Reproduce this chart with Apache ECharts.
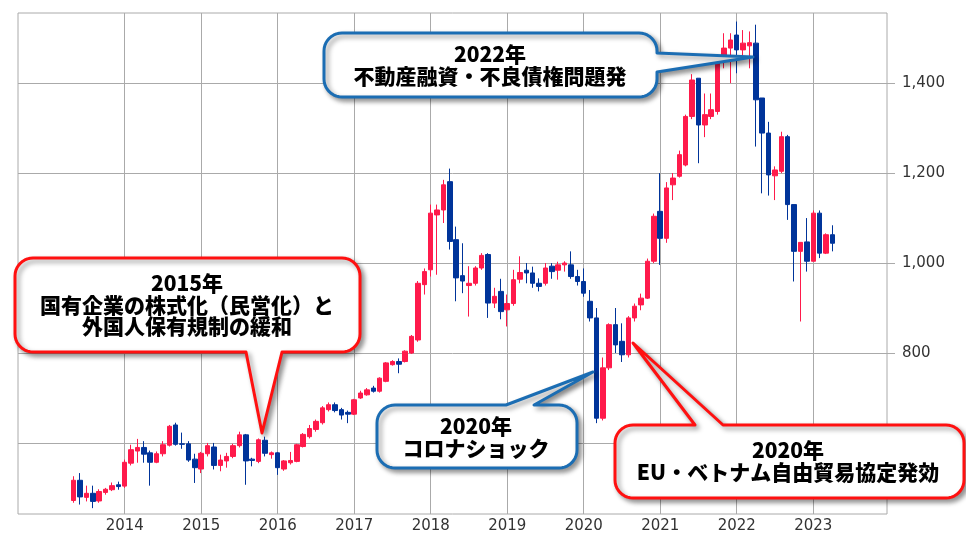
<!DOCTYPE html>
<html><head><meta charset="utf-8">
<script src="https://cdn.jsdelivr.net/npm/echarts@6/dist/echarts.min.js"></script>
<style>html,body{margin:0;padding:0;background:#fff}#c{width:966px;height:543px}</style>
</head><body><div id="c"></div>
<script>
// Monthly candles, May 2013 – Apr 2023
const startYear = 2013, startMonth = 5, monthCount = 120;
const months = [];
for (let i = 0; i < monthCount; i++) {
  const m0 = startMonth - 1 + i;
  months.push((startYear + Math.floor(m0 / 12)) + '-' + String(m0 % 12 + 1).padStart(2, '0'));
}
const opens = [
  472, 517, 479, 488, 471, 490, 496, 507,
  504, 555, 582, 590, 578, 557, 576, 595, 640, 598, 598, 564,
  542, 576, 591, 550, 560, 570, 594, 618, 564, 559, 606, 574,
  578, 542, 556, 559, 592, 614, 630, 645, 674, 685, 674, 668,
  664, 700, 707, 722, 715, 737, 774, 781, 781, 800, 829, 952,
  985, 1107, 1118, 1181, 1052, 972, 950, 955, 989, 1019, 911, 937,
  896, 910, 964, 984, 978, 955, 955, 993, 984, 996, 996, 970,
  959, 915, 878, 655, 767, 863, 826, 796, 878, 907, 922, 1004,
  1115, 1055, 1174, 1193, 1218, 1326, 1411, 1307, 1326, 1337, 1459, 1478,
  1507, 1474, 1483, 1489, 1367, 1289, 1194, 1204, 1281, 1130, 1026, 1047,
  1004, 1111, 1022, 1063
];
const closes = [
  517, 480, 488, 470, 492, 497, 505, 503,
  557, 585, 590, 575, 557, 576, 596, 637, 597, 597, 562, 545,
  577, 594, 550, 562, 570, 594, 618, 560, 561, 607, 577, 578,
  545, 560, 561, 596, 619, 632, 648, 678, 685, 672, 662, 664,
  696, 711, 718, 715, 744, 778, 781, 775, 804, 837, 955, 981,
  1111, 1118, 1174, 1048, 967, 960, 955, 989, 1017, 911, 926, 892,
  910, 963, 979, 978, 955, 948, 989, 981, 996, 1000, 970, 959,
  933, 878, 655, 767, 863, 818, 796, 878, 904, 922, 1004, 1104,
  1055, 1167, 1189, 1241, 1326, 1407, 1307, 1330, 1341, 1459, 1478, 1496,
  1474, 1489, 1490, 1363, 1289, 1196, 1207, 1281, 1130, 1026, 1046, 1004,
  1111, 1022, 1063, 1044
];
const lows = [
  467, 463, 470, 455, 467, 485, 493, 496,
  500, 550, 556, 556, 505, 555, 570, 592, 594, 587, 558, 511,
  533, 570, 541, 537, 545, 566, 590, 507, 548, 555, 570, 565,
  529, 538, 552, 557, 590, 610, 625, 641, 670, 668, 652, 644,
  662, 698, 705, 712, 712, 735, 772, 755, 779, 798, 825, 930,
  970, 974, 1089, 1030, 915, 933, 881, 950, 985, 878, 900, 875,
  859, 905, 955, 955, 945, 937, 950, 965, 963, 981, 965, 950,
  925, 870, 644, 650, 762, 800, 780, 790, 870, 895, 920, 1000,
  996, 1045, 1140, 1190, 1215, 1320, 1222, 1280, 1320, 1330, 1433, 1400,
  1422, 1460, 1433, 1259, 1155, 1150, 1140, 1200, 1096, 959, 870, 981,
  1004, 1011, 1020, 1026
];
const highs = [
  526, 533, 505, 505, 497, 500, 512, 514,
  563, 596, 609, 604, 583, 581, 604, 640, 645, 623, 604, 576,
  580, 600, 600, 574, 578, 598, 625, 620, 567, 610, 614, 581,
  580, 562, 580, 598, 622, 640, 652, 682, 690, 690, 678, 672,
  698, 716, 722, 727, 746, 780, 784, 788, 806, 840, 960, 988,
  1130, 1130, 1185, 1210, 1081, 1044, 993, 993, 1022, 1022, 945, 965,
  930, 985, 1015, 1000, 992, 966, 1000, 1000, 1003, 1004, 1026, 985,
  988, 940, 900, 790, 866, 900, 866, 882, 910, 932, 1010, 1110,
  1200, 1180, 1200, 1250, 1330, 1420, 1411, 1377, 1377, 1462, 1511, 1511,
  1537, 1518, 1515, 1530, 1367, 1314, 1215, 1292, 1285, 1130, 1046, 1100,
  1117, 1117, 1066, 1084
];
const yearTicks = [2014, 2015, 2016, 2017, 2018, 2019, 2020, 2021, 2022, 2023];
const priceTicks = [600, 800, 1000, 1200, 1400];

const UP = '#FF1A4B', DOWN = '#00349A';
function monthToX(s) { const [y, m] = s.split('-').map(Number); return y + (m - 1) / 12; }
const data = months.map((m, i) => [monthToX(m), opens[i], closes[i], lows[i], highs[i]]);

const chart = echarts.init(document.getElementById('c'), null, {renderer: 'canvas'});

function arcPts(cx, cy, r, a0, a1) {
  const pts = [], n = 10;
  for (let i = 0; i <= n; i++) {
    const a = a0 + (a1 - a0) * i / n;
    pts.push([cx + r * Math.cos(a), cy + r * Math.sin(a)]);
  }
  return pts;
}
function bubblePoints(x, y, w, h, r, tail) {
  const P = Math.PI;
  let pts = [];
  pts.push([x + r, y]);
  if (tail.side === 'top') pts.push([tail.a, y], tail.tip, [tail.b, y]);
  pts = pts.concat(arcPts(x + w - r, y + r, r, -P / 2, 0));
  if (tail.side === 'right') pts.push([x + w, tail.a], tail.tip, [x + w, tail.b]);
  pts = pts.concat(arcPts(x + w - r, y + h - r, r, 0, P / 2));
  if (tail.side === 'bottom') pts.push([tail.b, y + h], tail.tip, [tail.a, y + h]);
  pts = pts.concat(arcPts(x + r, y + h - r, r, P / 2, P));
  pts = pts.concat(arcPts(x + r, y + r, r, P, 1.5 * P));
  return pts;
}
function callout(color, box, tail, lines, cx, cy) {
  return {
    type: 'group',
    children: [
      { type: 'polygon', z: 100,
        shape: { points: bubblePoints(box[0], box[1], box[2], box[3], 18, tail) },
        style: { fill: '#fff', stroke: color, lineWidth: 3, lineJoin: 'round',
                 shadowBlur: 5, shadowOffsetX: 3, shadowOffsetY: 3, shadowColor: 'rgba(0,0,0,0.4)' } },
      { type: 'text', z: 101,
        style: { text: lines.join('\n'), x: cx, y: cy, fill: '#000',
                 fontSize: 21, fontWeight: 900, fontFamily: '"Noto Sans CJK JP", sans-serif',
                 lineHeight: 21.5, align: 'center', verticalAlign: 'middle' } }
    ]
  };
}
const BLUE_B = '#1B6DB3', RED_B = '#FF1010';

chart.setOption({
  animation: false,
  backgroundColor: '#fff',
  grid: { left: 18, right: 79, top: 13, bottom: 29, show: true, borderColor: '#aaa', borderWidth: 1 },
  xAxis: {
    type: 'value', min: 2012.605, max: 2023.964,
    axisLine: { show: false },
    axisTick: { show: false, customValues: yearTicks },
    axisLabel: { customValues: yearTicks, formatter: v => String(v), color: '#333',
                 fontSize: 15, fontFamily: '"DejaVu Sans", sans-serif', margin: 5 },
    splitLine: { show: true, lineStyle: { color: '#aaa', width: 1 } }
  },
  yAxis: {
    type: 'value', position: 'right', min: 442, max: 1556,
    axisLine: { show: false },
    axisTick: { show: true, length: 8, customValues: priceTicks, lineStyle: { color: '#aaa' } },
    axisLabel: { customValues: priceTicks, color: '#333', fontSize: 15,
                 fontFamily: '"DejaVu Sans", sans-serif', margin: 15 },
    splitLine: { show: true, lineStyle: { color: '#aaa', width: 1 } }
  },
  series: [{
    type: 'candlestick',
    data: data,
    encode: { x: 0, y: [1, 2, 3, 4] },
    barWidth: 5,
    itemStyle: { color: UP, color0: DOWN, borderColor: UP, borderColor0: DOWN, borderWidth: 1 }
  }],
  graphic: [
    callout(BLUE_B, [324, 33, 333, 64], { side: 'right', a: 53, b: 72, tip: [753, 57] },
            ['2022年', '不動産融資・不良債権問題発'], 490, 65),
    callout(RED_B, [15, 258, 345, 94], { side: 'bottom', a: 246, b: 282, tip: [262, 433] },
            ['2015年', '国有企業の株式化（民営化）と', '外国人保有規制の緩和'], 187, 305),
    callout(BLUE_B, [377, 405, 200, 63], { side: 'top', a: 506, b: 534, tip: [593, 372] },
            ['2020年', 'コロナショック'], 476, 437),
    callout(RED_B, [615, 425, 349, 73], { side: 'top', a: 695, b: 723, tip: [633, 343] },
            ['2020年', 'EU・ベトナム自由貿易協定発効'], 788, 461)
  ]
});
</script></body></html>
